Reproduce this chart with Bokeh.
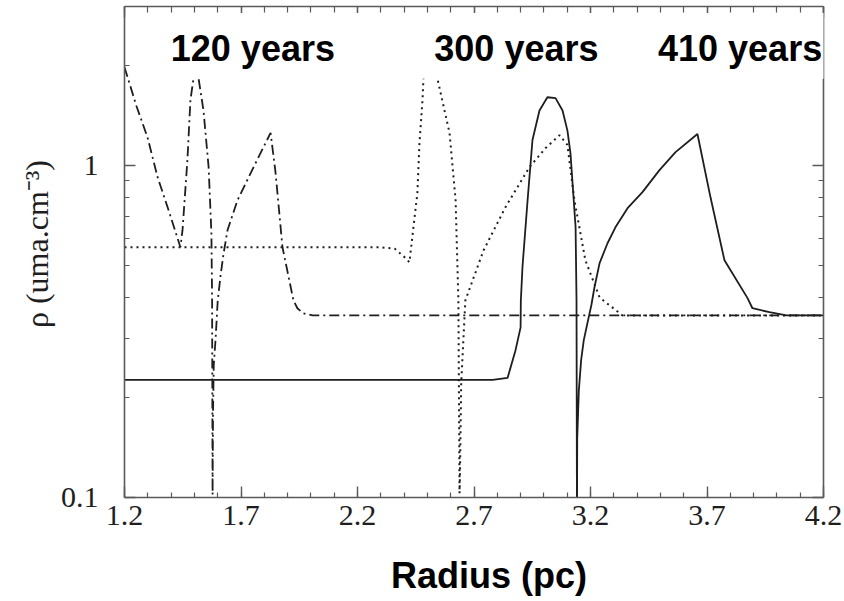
from bokeh.plotting import figure
from bokeh.models import (Range1d, FixedTicker, LinearAxis, LogAxis, BoxAnnotation, Label,
                          CustomJSTickFormatter)
from bokeh.embed import file_html
from bokeh.resources import INLINE

# ---- data ----
r_120 = [1.200, 1.252, 1.299, 1.342, 1.385, 1.440, 1.449, 1.470, 1.483, 1.496, 1.505, 1.512,
         1.518, 1.539, 1.561, 1.573, 1.576, 1.578, 1.580, 1.583, 1.591, 1.600, 1.613, 1.625,
         1.642, 1.685, 1.754, 1.827, 1.848, 1.878, 1.925, 1.942, 1.968, 2.007, 4.200]
rho_120 = [1.97, 1.50, 1.21, 0.92, 0.747, 0.566, 0.637, 1.035, 1.57, 1.82, 2.4, 2.4,
           1.82, 1.46, 0.986, 0.624, 0.392, 0.102, 0.18, 0.25, 0.30, 0.39, 0.47, 0.54,
           0.637, 0.784, 0.986, 1.25, 0.953, 0.566, 0.392, 0.371, 0.358, 0.353, 0.353]

r_300 = [1.200, 2.300, 2.360, 2.400, 2.423, 2.440, 2.457, 2.466, 2.479, 2.483, 2.500, 2.530,
         2.543, 2.595, 2.621, 2.633, 2.638, 2.640, 2.645, 2.663, 2.741, 2.835, 2.938, 3.007,
         3.067, 3.101, 3.131, 3.178, 3.239, 3.281, 3.337, 4.200]
rho_300 = [0.566, 0.566, 0.56, 0.53, 0.510, 0.650, 0.823, 1.165, 1.57, 1.82, 2.4, 2.4,
           1.82, 1.25, 0.784, 0.392, 0.103, 0.12, 0.22, 0.392, 0.554, 0.747, 0.986, 1.125,
           1.23, 1.15, 0.784, 0.517, 0.40, 0.379, 0.353, 0.353]

r_410 = [1.200, 2.780, 2.844, 2.878, 2.900, 2.901, 2.908, 2.930, 2.951, 2.981, 3.015, 3.050,
         3.080, 3.101, 3.114, 3.136, 3.140, 3.142, 3.143, 3.150, 3.160, 3.171, 3.185, 3.204,
         3.217, 3.239, 3.273, 3.307, 3.359, 3.423, 3.496, 3.565, 3.659, 3.715, 3.775, 3.874,
         3.895, 3.968, 4.041, 4.200]
rho_410 = [0.226, 0.226, 0.229, 0.277, 0.325, 0.39, 0.493, 0.784, 1.19, 1.46, 1.60, 1.59,
           1.46, 1.27, 1.087, 0.65, 0.392, 0.08, 0.15, 0.21, 0.26, 0.297, 0.33, 0.38,
           0.429, 0.507, 0.582, 0.650, 0.742, 0.829, 0.966, 1.094, 1.24, 0.80, 0.517, 0.398,
           0.371, 0.361, 0.353, 0.353]

epochs = ["120 years", "300 years", "410 years"]
epoch_x = [1.751, 2.882, 3.842]

x_ticks = [1.2, 1.7, 2.2, 2.7, 3.2, 3.7, 4.2]
x_minor = [round(1.2 + 0.1 * i, 1) for i in range(31)]
y_ticks = [0.1, 1.0]
y_tick_labels = {0.1: "0.1", 1.0: "1"}
y_minor = [0.2, 0.3, 0.4, 0.5, 0.6, 0.7, 0.8, 0.9, 2.0, 3.0]

INK = "#1e1e1e"
AXC = "#5a5a5a"
SERIF = "Liberation Serif"
SANS = "Liberation Sans"
NB = "\u00a0"

p = figure(width=844, height=601, output_backend="svg", toolbar_location=None,
           y_axis_type="log", x_range=Range1d(1.2, 4.2), y_range=Range1d(0.1, 3.0),
           min_border_left=124, min_border_right=21, min_border_top=6, min_border_bottom=104)
p.grid.visible = False
p.outline_line_color = None
p.background_fill_color = "white"
p.border_fill_color = "white"

xt = FixedTicker(ticks=x_ticks, minor_ticks=x_minor)
yt = FixedTicker(ticks=y_ticks, minor_ticks=y_minor)

xa = p.xaxis[0]
xa.ticker = xt
xa.axis_label = NB * 3 + "Radius (pc)"
xa.axis_label_text_font = SANS
xa.axis_label_text_font_style = "bold"
xa.axis_label_text_font_size = "36px"
xa.axis_label_text_color = "black"
xa.axis_label_standoff = 27
xa.major_label_text_font = SERIF
xa.major_label_text_font_size = "30px"
xa.major_label_text_color = INK
xa.major_label_standoff = 8

ya = p.yaxis[0]
ya.ticker = yt
ya.major_label_overrides = y_tick_labels
ya.axis_label = NB * 2 + "ρ (uma.cm⁻³)"
ya.axis_label_text_font = SERIF
ya.axis_label_text_font_style = "normal"
ya.axis_label_text_font_size = "32px"
ya.axis_label_text_color = INK
ya.axis_label_standoff = 3
ya.major_label_text_font = SERIF
ya.major_label_text_font_size = "30px"
ya.major_label_text_color = INK
ya.major_label_standoff = 26

for ax in (xa, ya):
    ax.axis_line_color = AXC
    ax.axis_line_width = 1.6
    ax.major_tick_line_color = AXC
    ax.minor_tick_line_color = AXC
    ax.major_tick_line_width = 1.4
    ax.minor_tick_line_width = 1.2
    ax.major_tick_in = 11
    ax.major_tick_out = 0
    ax.minor_tick_in = 5
    ax.minor_tick_out = 0

blank = CustomJSTickFormatter(code="return ''")
top = LinearAxis(ticker=xt, formatter=blank, major_label_standoff=0,
                 major_tick_in=11, major_tick_out=0, minor_tick_in=6, minor_tick_out=0)
right = LogAxis(ticker=yt, formatter=blank, major_label_standoff=0,
                major_tick_in=11, major_tick_out=0, minor_tick_in=5, minor_tick_out=0)
for ax in (top, right):
    ax.axis_line_color = AXC
    ax.axis_line_width = 1.6
    ax.major_tick_line_color = AXC
    ax.minor_tick_line_color = AXC
    ax.major_tick_line_width = 1.4
    ax.minor_tick_line_width = 1.2
p.add_layout(top, "above")
p.add_layout(right, "right")

p.line(r_410, rho_410, line_width=1.8, color=INK)
p.line(r_300, rho_300, line_width=2.0, color=INK, line_dash="2 4")
p.line(r_120, rho_120, line_width=1.8, color=INK, line_dash="10 4 2 4")

box = BoxAnnotation(left=1.25, right=4.4, bottom=1.82, top=2.87,
                    fill_color="white", fill_alpha=1.0, line_color=None)
p.add_layout(box)

for name, xv in zip(epochs, epoch_x):
    lab = Label(x=xv, y=2.24, text=name, text_align="center", text_baseline="middle",
                text_font=SANS, text_font_style="bold", text_font_size="36px",
                text_color="black")
    p.add_layout(lab)

open("out.html", "w").write(file_html(p, INLINE))
